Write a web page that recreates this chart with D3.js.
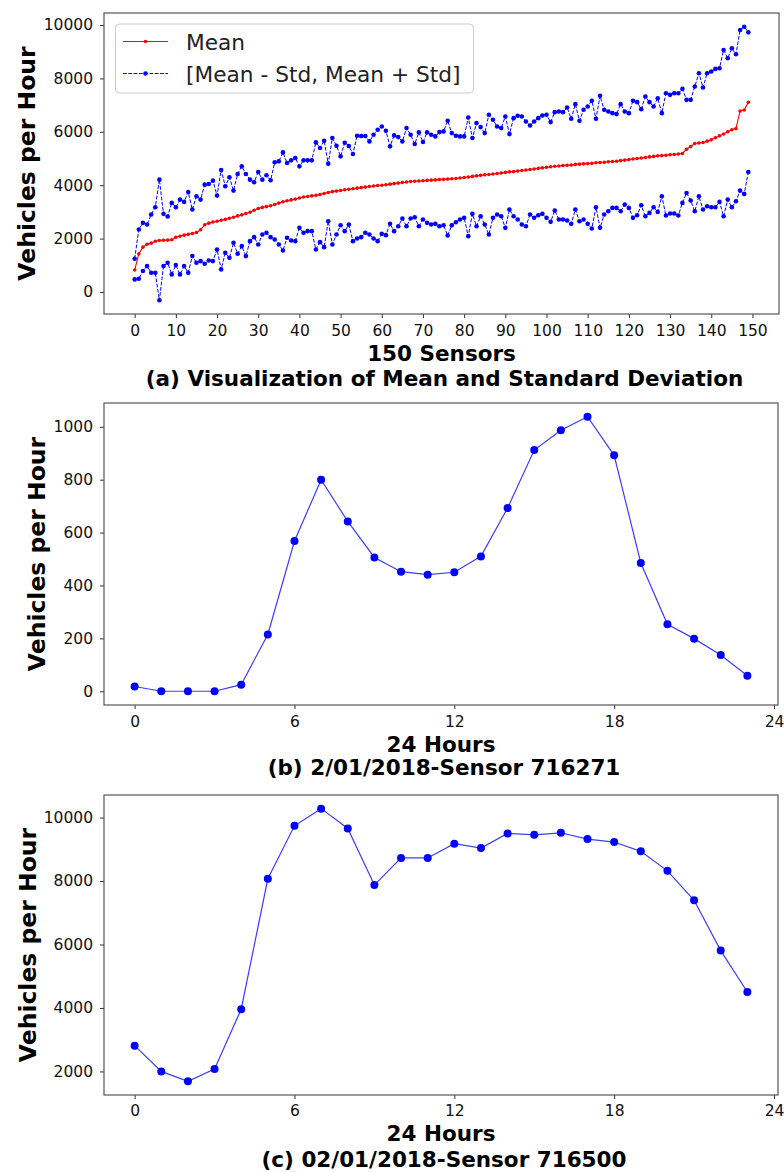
<!DOCTYPE html>
<html><head><meta charset="utf-8">
<script src="https://cdn.jsdelivr.net/npm/d3@7"></script>
<style>body{margin:0;background:#fff}svg{display:block}text{font-family:"DejaVu Sans",sans-serif}</style>
</head><body><svg id="c" width="784" height="1172"></svg>
<script>
// ---------- DATA ----------
const meanVals = [
 822,1432,1680,1790,1830,1900,1930,1940,1945,1955,
 2050,2090,2130,2160,2190,2230,2330,2520,2580,2620,
 2650,2690,2720,2760,2800,2850,2890,2940,2990,3060,
 3130,3170,3200,3230,3280,3330,3380,3420,3450,3480,
 3520,3560,3580,3600,3620,3650,3690,3730,3760,3780,
 3800,3830,3850,3870,3890,3910,3930,3950,3970,3990,
 4000,4020,4040,4060,4080,4100,4120,4140,4150,4160,
 4170,4180,4190,4200,4210,4220,4230,4240,4250,4270,
 4290,4310,4330,4350,4370,4390,4400,4420,4440,4460,
 4480,4500,4510,4530,4550,4570,4590,4610,4630,4650,
 4670,4690,4710,4720,4740,4750,4760,4780,4790,4800,
 4810,4820,4840,4850,4860,4880,4890,4900,4920,4940,
 4960,4980,5000,5020,5040,5060,5080,5100,5110,5120,
 5140,5150,5170,5190,5350,5450,5560,5580,5600,5650,
 5700,5780,5850,5920,6000,6080,6120,6780,6820,7110];
const upperVals = [
 1245,2341,2590,2528,2902,3176,4209,2927,2827,3337,
 3176,3462,3375,3748,3088,3587,3462,4022,4047,4172,
 3611,4570,3960,4296,3798,4421,4707,4421,4209,4110,
 4496,4209,4371,4184,4857,4894,5230,4832,4932,5019,
 4707,4932,4932,4932,5604,5392,5666,4807,5766,5479,
 5081,5592,5467,5168,5853,5841,5841,5641,5890,6077,
 6202,6040,5455,5866,5803,5641,6139,5890,5542,5978,
 5616,5978,5890,5828,5990,6015,6413,5953,5853,5828,
 5828,6538,5766,6326,6177,5953,6638,6451,6202,6139,
 6575,5915,6513,6600,6575,6389,6239,6389,6513,6613,
 6638,6364,6737,6762,6737,6912,6488,7036,6413,6824,
 6949,7161,6488,7347,6824,6762,6700,6663,7036,6762,
 6700,7161,7111,6849,7323,7111,6949,7260,6700,7447,
 7385,7447,7447,7609,7198,7198,7696,8194,7659,8194,
 8257,8356,8381,9066,8755,9128,8904,9813,9938,9726];
const lowerVals = [
 473,498,785,971,722,722,-311,971,1096,660,
 1009,660,971,722,1345,1096,1158,1059,1183,1158,
 1594,847,1469,1283,1843,1432,1719,1345,1905,2055,
 1781,2154,2217,2055,1968,1781,1557,2030,1930,1905,
 2403,2217,2279,2279,1594,1868,1681,2653,1781,2154,
 2503,2279,2528,1905,2005,2055,2217,2154,2005,1905,
 2179,2130,2553,2279,2466,2752,2466,2752,2802,2466,
 2715,2590,2528,2553,2466,2503,2117,2503,2615,2715,
 2777,2092,2927,2466,2839,2528,2154,2777,2902,2839,
 2403,3088,2839,2715,2528,2466,2902,2777,2877,2927,
 2777,2628,3051,2715,2715,2677,2553,3088,2653,2715,
 2553,2379,3176,2403,2902,3026,3151,3151,3026,3275,
 3151,2777,2877,3250,2839,2964,3176,3001,3587,2864,
 2939,2939,2864,3337,3711,3425,3026,3587,3088,3213,
 3176,3176,3375,2839,3462,3176,3400,3798,3674,4496];
const sensorTicks = [0,10,20,30,40,50,60,70,80,90,100,110,120,130,140,150];
const flowTicksA = [0,2000,4000,6000,8000,10000];

const hours = [0,1,2,3,4,5,6,7,8,9,10,11,12,13,14,15,16,17,18,19,20,21,22,23];
const hourTicks = [0,6,12,18,24];
const flowB = [18,0,0,0,25,215,568,800,642,506,452,441,450,510,693,912,987,1038,892,485,253,199,137,59];
const flowTicksB = [0,200,400,600,800,1000];
const flowC = [2813,2000,1687,2073,3961,8070,9739,10281,9656,7872,8727,8727,9176,9040,9499,9457,9520,9322,9228,8936,8320,7392,5807,4503];
const flowTicksC = [2000,4000,6000,8000,10000];

const legendLabels = ["Mean", "[Mean - Std, Mean + Std]"];
const yLabel = "Vehicles per Hour";
const xLabels = ["150 Sensors", "24 Hours", "24 Hours"];
const titles = ["(a) Visualization of Mean and Standard Deviation", "(b) 2/01/2018-Sensor 716271", "(c) 02/01/2018-Sensor 716500"];

// ---------- DRAW ----------
const svg = d3.select("#c");
const TICK_FS = 15.5, LAB_FS = 21.5, YLAB_FS = 23.5;

function padDomain(vals, frac) {
  const [a, b] = d3.extent(vals);
  const p = (b - a) * frac;
  return [a - p, b + p];
}

function panel(box, x, y, xTicks, yTicks, xLab, title, o) {
  const g = svg.append("g");
  const xa = d3.axisBottom(x).tickValues(xTicks).tickSize(4).tickPadding(o.pad).tickFormat(d3.format("d"));
  const ya = d3.axisLeft(y).tickValues(yTicks).tickSize(4).tickPadding(7).tickFormat(d3.format("d"));
  const gx = g.append("g").attr("transform", `translate(0,${box.b})`).call(xa);
  const gy = g.append("g").attr("transform", `translate(${box.l},0)`).call(ya);
  [gx, gy].forEach(a => {
    a.select(".domain").remove();
    a.selectAll("line").attr("stroke", "#333").attr("stroke-width", 1);
    a.selectAll("text").attr("font-size", TICK_FS).attr("fill", "#111").attr("font-family", "DejaVu Sans");
  });
  g.append("rect").attr("x", box.l).attr("y", box.t).attr("width", box.r - box.l).attr("height", box.b - box.t)
    .attr("fill", "none").attr("stroke", "#555").attr("stroke-width", 1.2);
  const cx = (box.l + box.r) / 2;
  g.append("text").attr("x", cx).attr("y", box.b + o.xl).attr("text-anchor", "middle")
    .attr("font-size", LAB_FS).attr("font-weight", "bold").text(xLab);
  g.append("text").attr("x", cx + 3).attr("y", box.b + o.ti).attr("text-anchor", "middle")
    .attr("font-size", LAB_FS).attr("font-weight", "bold").text(title);
  g.append("text").attr("transform", `translate(${o.yl},${(box.t + box.b) / 2}) rotate(-90)`)
    .attr("text-anchor", "middle").attr("font-size", YLAB_FS).attr("font-weight", "bold").text(yLabel);
  return g;
}

// ---- Panel (a) ----
{
  const box = {l: 104, r: 779, t: 13, b: 314};
  const idx = d3.range(meanVals.length);
  const x = d3.scaleLinear().domain(padDomain(idx, 0.05)).range([box.l, box.r]);
  const y = d3.scaleLinear().domain(padDomain(upperVals.concat(lowerVals, meanVals), 0.05)).range([box.b, box.t]);
  const g = panel(box, x, y, sensorTicks, flowTicksA, xLabels[0], titles[0], {pad: 7, xl: 46.5, ti: 72, yl: 35});
  const line = d3.line().x((d, i) => x(i)).y(d => y(d));
  [upperVals, lowerVals].forEach(s => {
    g.append("path").attr("d", line(s)).attr("fill", "none").attr("stroke", "#0000ff")
      .attr("stroke-width", 1).attr("stroke-dasharray", "3.7,1.6");
    g.append("g").selectAll("circle").data(s).join("circle")
      .attr("cx", (d, i) => x(i)).attr("cy", d => y(d)).attr("r", 2.3).attr("fill", "#0000ff");
  });
  g.append("path").attr("d", line(meanVals)).attr("fill", "none").attr("stroke", "#ff0000").attr("stroke-width", 1.1);
  g.append("g").selectAll("circle").data(meanVals).join("circle")
    .attr("cx", (d, i) => x(i)).attr("cy", d => y(d)).attr("r", 1.8).attr("fill", "#ff0000");

  // legend
  const lg = g.append("g");
  lg.append("rect").attr("x", 115.5).attr("y", 24).attr("width", 358).attr("height", 69).attr("rx", 4)
    .attr("fill", "#fff").attr("fill-opacity", 0.8).attr("stroke", "#ccc").attr("stroke-width", 1);
  const rows = [{c: "#ff0000", dash: null, r: 1.8, yy: 41.5}, {c: "#0000ff", dash: "3.7,1.6", r: 2.3, yy: 73.5}];
  rows.forEach((rw, k) => {
    lg.append("line").attr("x1", 123).attr("x2", 168).attr("y1", rw.yy).attr("y2", rw.yy)
      .attr("stroke", rw.c).attr("stroke-width", 1).attr("stroke-dasharray", rw.dash);
    lg.append("circle").attr("cx", 145.5).attr("cy", rw.yy).attr("r", rw.r).attr("fill", rw.c);
    lg.append("text").attr("x", 186).attr("y", rw.yy + 8).attr("font-size", 21.7).attr("fill", "#222").text(legendLabels[k]);
  });
}

// ---- Panels (b), (c) ----
function hourPanel(box, vals, yTicks, xLab, title, o) {
  const x = d3.scaleLinear().domain(padDomain(hours, 0.05)).range([box.l, box.r]);
  const y = d3.scaleLinear().domain(padDomain(vals, 0.05)).range([box.b, box.t]);
  const g = panel(box, x, y, hourTicks, yTicks, xLab, title, o);
  const line = d3.line().x((d, i) => x(hours[i])).y(d => y(d));
  g.append("path").attr("d", line(vals)).attr("fill", "none").attr("stroke", "#3c3cff").attr("stroke-width", 1.2);
  g.append("g").selectAll("circle").data(vals).join("circle")
    .attr("cx", (d, i) => x(hours[i])).attr("cy", d => y(d)).attr("r", 4).attr("fill", "#0000ff");
}
hourPanel({l: 104, r: 778, t: 403, b: 705}, flowB, flowTicksB, xLabels[1], titles[1], {pad: 7, xl: 46.5, ti: 70, yl: 45});
hourPanel({l: 104, r: 778, t: 795, b: 1095}, flowC, flowTicksC, xLabels[2], titles[2], {pad: 6, xl: 46, ti: 71.5, yl: 36});
</script></body></html>
